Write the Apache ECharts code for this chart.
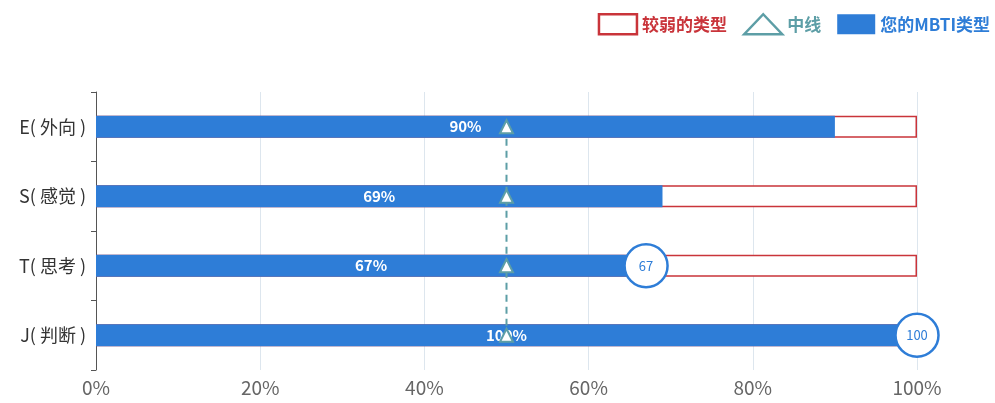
<!DOCTYPE html>
<html>
<head>
<meta charset="utf-8">
<style>
  html, body { margin: 0; padding: 0; background: #fff; }
  #main { width: 995px; height: 403px; }
</style>
<script src="https://cdn.jsdelivr.net/npm/echarts@6/dist/echarts.min.js"></script>
</head>
<body>
<div id="main"></div>
<script>
// 维度
var categories = ['E( 外向 )', 'S( 感觉 )', 'T( 思考 )', 'J( 判断 )'];
// 您的MBTI类型
var myType = [90, 69, 67, 100];
// 较弱的类型 (背景满格)
var weakType = [100, 100, 100, 100];
// 中线
var midLine = [50, 50, 50, 50];
var xTicks = ['0%', '20%', '40%', '60%', '80%', '100%'];

var blue = '#2e7dd7';
var red = '#c9343a';
var teal = '#5d9ea6';

var myChart = echarts.init(document.getElementById('main'));
myChart.setOption({
  animation: false,
  textStyle: { fontFamily: '"Noto Sans CJK SC", "Liberation Sans", sans-serif' },
  legend: {
    right: 0,
    top: 8,
    itemWidth: 38,
    itemHeight: 20,
    itemGap: 16,
    textStyle: { fontSize: 17, fontWeight: 'bold' },
    data: [
      { name: '较弱的类型', icon: 'rect', itemStyle: { color: '#fff', borderColor: red, borderWidth: 2.5 }, textStyle: { color: red } },
      { name: '中线', icon: 'triangle', itemStyle: { color: '#fff', borderColor: teal, borderWidth: 2.5 }, textStyle: { color: teal } },
      { name: '您的MBTI类型', icon: 'rect', textStyle: { color: blue } }
    ]
  },
  grid: { left: 96, right: 78, top: 92, bottom: 33 },
  xAxis: {
    type: 'value',
    min: 0,
    max: 100,
    interval: 20,
    axisLine: { show: false },
    axisTick: { show: false },
    axisLabel: {
      color: '#666',
      fontSize: 19,
      margin: 8,
      formatter: function (v) { return xTicks[v / 20]; }
    },
    splitLine: { lineStyle: { color: '#dde6ee' } }
  },
  yAxis: {
    type: 'category',
    inverse: true,
    data: categories,
    axisLine: { lineStyle: { color: '#555' } },
    axisTick: { show: true, length: 5, lineStyle: { color: '#555' } },
    axisLabel: { color: '#333', fontSize: 18, margin: 10 }
  },
  series: [{
    name: '较弱的类型',
    type: 'bar',
    data: weakType,
    barWidth: 22,
    silent: true,
    itemStyle: { color: '#fff', borderColor: red, borderWidth: 1.5 },
    z: 1
  }, {
    name: '您的MBTI类型',
    type: 'bar',
    data: myType,
    barWidth: 22,
    barGap: '-100%',
    itemStyle: { color: blue },
    label: {
      show: true,
      position: 'inside',
      color: '#fff',
      fontSize: 15,
      fontWeight: 'bold',
      formatter: '{c}%'
    },
    markPoint: {
      symbol: 'circle',
      symbolSize: 43,
      itemStyle: { color: '#fff', borderColor: blue, borderWidth: 2.5 },
      label: { color: blue, fontSize: 13 },
      data: [{ type: 'max' }, { type: 'min' }]
    },
    z: 2
  }, {
    name: '中线',
    type: 'line',
    data: midLine,
    symbol: 'triangle',
    symbolSize: 13,
    itemStyle: { color: '#fff', borderColor: teal, borderWidth: 2 },
    lineStyle: { color: teal, width: 2, type: [7, 5] },
    z: 3
  }]
});
</script>
</body>
</html>
